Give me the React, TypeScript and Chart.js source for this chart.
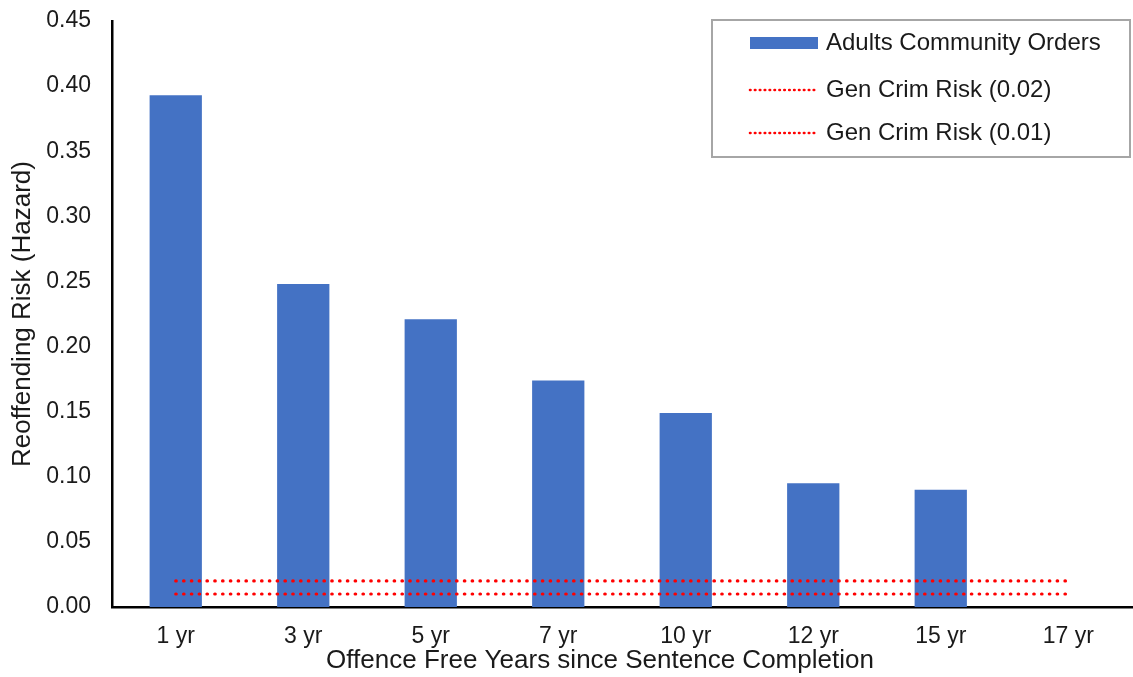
import React, { useEffect, useRef } from "react";
import { Chart, registerables } from "chart.js";

Chart.register(...registerables);

const categories = ["1 yr", "3 yr", "5 yr", "7 yr", "10 yr", "12 yr", "15 yr", "17 yr"];
const communityOrders = [0.393, 0.248, 0.221, 0.174, 0.149, 0.095, 0.09, null];
const genCrimRiskHigh = [0.02, 0.02, 0.02, 0.02, 0.02, 0.02, 0.02, 0.02];
const genCrimRiskLow = [0.01, 0.01, 0.01, 0.01, 0.01, 0.01, 0.01, 0.01];
const yTicks = [0, 0.05, 0.1, 0.15, 0.2, 0.25, 0.3, 0.35, 0.4, 0.45];
const xTitle = "Offence Free Years since Sentence Completion";

const FONT = "Arial, 'Liberation Sans', sans-serif";
const BLUE = "#4472C4";
const RED = "#FF0000";
const TEXT = "#1a1a1a";
const DOTS = [0.5, 7.3];

// Boxed legend inside the upper-right of the plot, plus the x-axis title
const boxLegend = {
  id: "boxLegend",
  afterDraw(chart: any) {
    const ctx = chart.ctx;
    const left = 712;
    const top = 20;
    const right = 1130;
    const bottom = 157;
    ctx.save();
    ctx.fillStyle = "#ffffff";
    ctx.fillRect(left, top, right - left, bottom - top);
    ctx.strokeStyle = "#a6a6a6";
    ctx.lineWidth = 2;
    ctx.strokeRect(left, top, right - left, bottom - top);
    ctx.font = `24px ${FONT}`;
    ctx.textBaseline = "middle";
    const rows = [top + 23, top + 70, top + 113];
    chart.data.datasets.forEach((ds: any, i: number) => {
      const y = rows[i];
      if (ds.type === "bar") {
        ctx.fillStyle = ds.backgroundColor;
        ctx.fillRect(750, y - 6, 68, 12);
      } else {
        ctx.strokeStyle = ds.borderColor;
        ctx.lineWidth = 2.6;
        ctx.lineCap = "round";
        ctx.setLineDash([0.5, 4.4]);
        ctx.beginPath();
        ctx.moveTo(750, y);
        ctx.lineTo(815, y);
        ctx.stroke();
        ctx.setLineDash([]);
      }
      ctx.fillStyle = TEXT;
      ctx.textAlign = "left";
      ctx.fillText(ds.label, 826, y);
    });

    ctx.font = `26px ${FONT}`;
    ctx.textAlign = "center";
    ctx.fillStyle = TEXT;
    ctx.fillText(xTitle, 600, 661);
    ctx.restore();
  },
};

export default function App() {
  const canvasRef = useRef<HTMLCanvasElement | null>(null);

  useEffect(() => {
    document.body.style.margin = "0";
    const canvas = canvasRef.current;
    if (!canvas) return;
    const chart = new Chart(canvas, {
      type: "bar",
      data: {
        labels: categories,
        datasets: [
          {
            type: "bar",
            label: "Adults Community Orders",
            data: communityOrders,
            backgroundColor: BLUE,
            barPercentage: 0.41,
            categoryPercentage: 1,
            order: 2,
          },
          {
            type: "line",
            label: "Gen Crim Risk (0.02)",
            data: genCrimRiskHigh,
            borderColor: RED,
            borderWidth: 3.2,
            borderDash: DOTS,
            borderCapStyle: "round",
            pointRadius: 0,
            fill: false,
            order: 0,
          },
          {
            type: "line",
            label: "Gen Crim Risk (0.01)",
            data: genCrimRiskLow,
            borderColor: RED,
            borderWidth: 3.2,
            borderDash: DOTS,
            borderCapStyle: "round",
            pointRadius: 0,
            fill: false,
            order: 1,
          },
        ] as any,
      },
      options: {
        animation: false,
        responsive: false,
        devicePixelRatio: 1,
        layout: { padding: { top: 21, right: 1, bottom: 0, left: 0 } },
        plugins: {
          legend: { display: false },
          tooltip: { enabled: false },
        },
        scales: {
          x: {
            offset: true,
            grid: { display: false, drawTicks: false },
            border: { display: true, color: "#000000", width: 2.5 },
            ticks: {
              padding: 16,
              color: TEXT,
              font: { family: FONT, size: 23 },
            },
            afterFit(scale: any) {
              scale.height = 70;
            },
          },
          y: {
            min: 0,
            max: 0.45,
            grid: { display: false, drawTicks: false },
            border: { display: true, color: "#000000", width: 2.5 },
            afterBuildTicks(scale: any) {
              scale.ticks = yTicks.map((v) => ({ value: v }));
            },
            ticks: {
              padding: 21,
              color: TEXT,
              font: { family: FONT, size: 23 },
              callback: (v: any) => Number(v).toFixed(2),
            },
            title: {
              display: true,
              text: "Reoffending Risk (Hazard)",
              color: TEXT,
              font: { family: FONT, size: 26 },
              padding: { top: 7, bottom: 0 },
            },
            afterFit(scale: any) {
              scale.width = 112;
              scale.paddingTop = 0;
              scale.paddingBottom = 0;
            },
          },
        },
      },
      plugins: [boxLegend],
    });
    return () => chart.destroy();
  }, []);

  return (
    <div style={{ width: 1133, height: 677, background: "#fff" }}>
      <canvas ref={canvasRef} width={1133} height={677} />
    </div>
  );
}
